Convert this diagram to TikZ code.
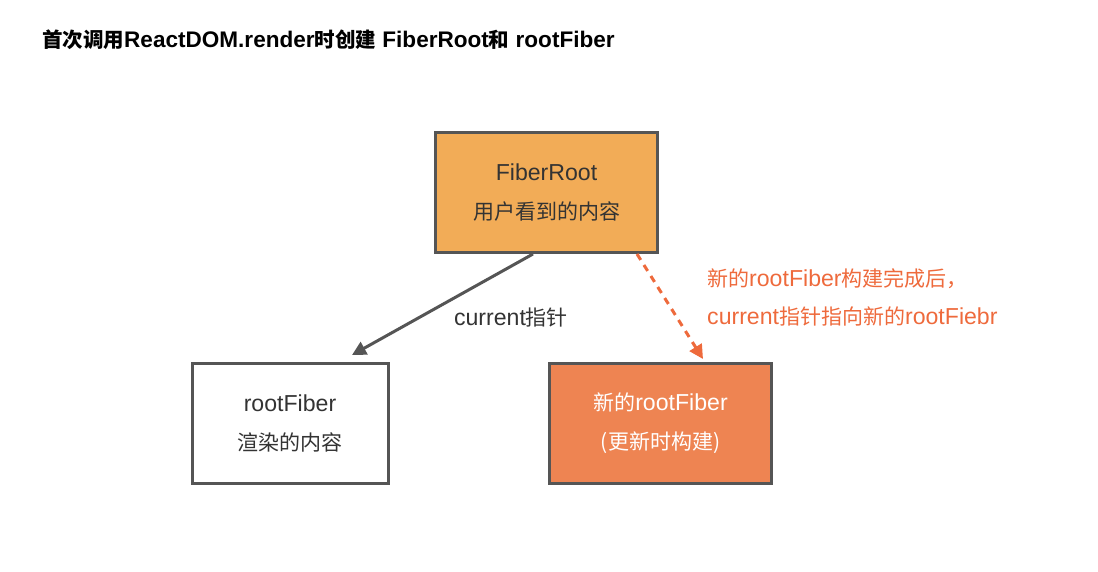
\documentclass[tikz,border=0pt]{standalone}
\usepackage{fontspec}
\setmainfont{Liberation Sans}[Scale=1.1]
\newfontfamily\cjk{Noto Sans CJK SC}
\newcommand{\zh}[1]{{\cjk #1}}
\usetikzlibrary{arrows.meta}
\definecolor{edge}{HTML}{555555}
\definecolor{rootfill}{HTML}{F2AC57}
\definecolor{newfill}{HTML}{EE8452}
\definecolor{redtxt}{HTML}{EE6A3C}
\definecolor{txt}{HTML}{333333}
\tikzset{
  box/.style={draw=edge, line width=3pt, minimum width=222pt, minimum height=120pt, inner sep=0pt, align=center, text=txt, font=\fontsize{21}{39}\selectfont},
  conn/.style={draw=edge, line width=3pt, -{Triangle[length=14pt,width=14pt]}},
  dconn/.style={draw=redtxt, line width=3pt, dash pattern=on 7pt off 6pt, -{Triangle[length=14pt,width=14pt]}},
}
\begin{document}
\begin{tikzpicture}[x=1pt,y=-1pt]
\useasboundingbox (0,0) rectangle (1098,572);
\node[anchor=west, font=\fontsize{20.5}{24}\selectfont\bfseries, text=black, inner sep=0pt] (title) at (42,40) {\zh{首次调用}ReactDOM.render\zh{时创建} FiberRoot\zh{和} rootFiber};
\node[box, fill=rootfill] (fr) at (546.5,193) {FiberRoot\\\zh{用户看到的内容}};
\node[box, fill=white, minimum width=196pt] (rf) at (290,423) {rootFiber\\\zh{渲染的内容}};
\node[box, fill=newfill, text=white] (nrf) at (660.5,423) {\zh{新的}rootFiber\\\zh{(更新时构建)}};
\draw[conn] (533,254) -- (352,355);
\draw[dconn] (637,254) -- (703,359);
\node[font=\fontsize{21}{24}\selectfont, text=txt] (cur) at (511,318) {current\zh{指针}};
\node[anchor=west, align=left, text=redtxt, font=\fontsize{21}{38}\selectfont, inner sep=0pt] (note) at (707,297) {\zh{新的}rootFiber\zh{构建完成后，}\\current\zh{指针指向新的}rootFiebr};
\end{tikzpicture}
\end{document}
